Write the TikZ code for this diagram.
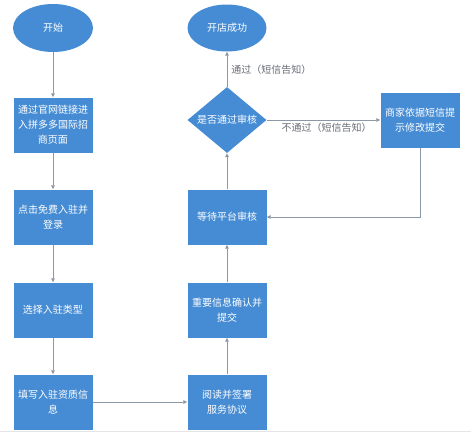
\documentclass[tikz,border=0pt]{standalone}
\usepackage{fontspec}
\setmainfont{Noto Sans CJK SC}
\usetikzlibrary{shapes.geometric,arrows.meta}
\definecolor{boxblue}{RGB}{70,140,212}
\definecolor{linegray}{RGB}{140,152,166}
\definecolor{labelgray}{RGB}{105,110,118}
\begin{document}
\begin{tikzpicture}[x=1pt, y=-1pt,
  box/.style={rectangle, fill=boxblue, text=white, minimum width=79pt, minimum height=55pt, align=center, inner sep=1pt, font=\fontsize{10}{15}\selectfont},
  oval/.style={ellipse, fill=boxblue, text=white, minimum width=80pt, minimum height=48pt, inner sep=0pt, font=\fontsize{10}{15}\selectfont},
  check/.style={diamond, fill=boxblue, minimum width=79pt, minimum height=66pt, inner sep=0pt},
  flow/.style={draw=linegray, line width=0.7pt, -{Triangle[length=4pt, width=3.5pt]}},
  note/.style={text=labelgray, font=\fontsize{10}{12}\selectfont, inner sep=2pt}]
\useasboundingbox (0,0) rectangle (471,442);
\draw[draw=black!10, line width=0.8pt](0,431)--(471,431);

% left column
\node[oval] (start) at (53,28) {开始};
\node[box] (site) at (53,125) {通过官网链接进\\入拼多多国际招\\商页面};
\node[box] (login) at (53,217) {点击免费入驻并\\登录};
\node[box] (kind) at (53,310) {选择入驻类型};
\node[box] (info) at (53,402) {填写入驻资质信\\息};

% right column
\node[box] (sign) at (227,402) {阅读并签署\\服务协议};
\node[box] (confirm) at (227,310) {重要信息确认并\\提交};
\node[box] (wait) at (227,217) {等待平台审核};
\node[check, label={[text=white, font=\fontsize{10}{12}\selectfont]center:是否通过审核}] (pass) at (227,120) {};
\node[oval, minimum width=79pt, minimum height=47pt] (open) at (227,28) {开店成功};
\node[box] (fix) at (420,120) {商家依据短信提\\示修改提交};

\draw[flow](start)--(site);
\draw[flow](site)--(login);
\draw[flow](login)--(kind);
\draw[flow](kind)--(info);
\draw[flow](info)--(sign);
\draw[flow](sign)--(confirm);
\draw[flow](confirm)--(wait);
\draw[flow](wait)--(pass);
\draw[flow](pass)--(open) node[note, midway, right, xshift=2pt]{通过（短信告知）};
\draw[flow](pass)--(fix) node[note, midway, below, xshift=3pt, yshift=-1pt]{不通过（短信告知）};
\draw[flow](fix)|-(wait);
\end{tikzpicture}
\end{document}
